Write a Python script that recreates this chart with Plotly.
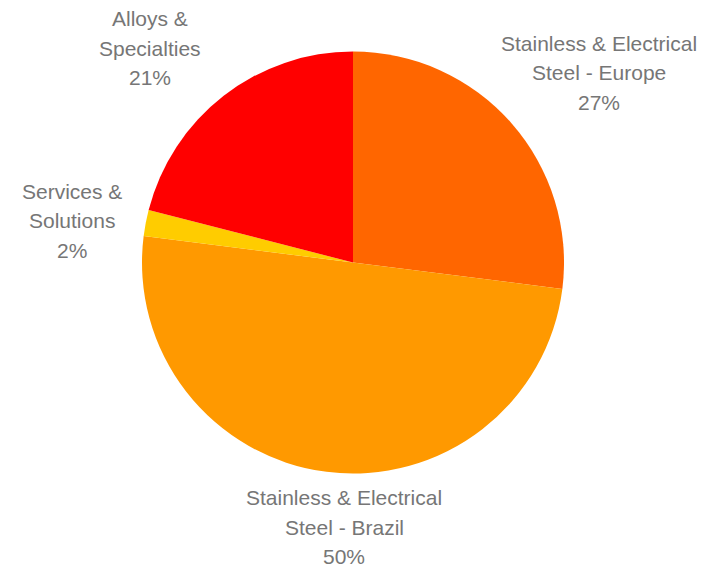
import plotly.graph_objects as go

# Segment shares, clockwise from 12 o'clock
segments = ["Stainless & Electrical<br>Steel - Europe",
            "Stainless & Electrical<br>Steel - Brazil",
            "Services &<br>Solutions",
            "Alloys &<br>Specialties"]
shares = [27, 50, 2, 21]
colors = ["#FF6600", "#FF9900", "#FFCC00", "#FF0000"]

W, H = 708, 567
cx, cy, r = 353, 262.5, 211

# Label block centres (pixels) and line spacing
label_pos = [(599, 73), (344, 527), (72, 221), (150, 48)]
line_gap = 29.5

fig = go.Figure(go.Pie(
    labels=segments,
    values=shares,
    sort=False,
    direction="clockwise",
    rotation=0,
    marker=dict(colors=colors, line=dict(width=0)),
    textinfo="none",
    hoverinfo="label+percent",
    showlegend=False,
    domain=dict(x=[(cx - r) / W, (cx + r) / W],
                y=[(H - cy - r) / H, (H - cy + r) / H]),
))

total = sum(shares)
annotations = []
for seg, val, (px, py) in zip(segments, shares, label_pos):
    lines = seg.split("<br>") + [f"{round(100 * val / total)}%"]
    n = len(lines)
    for i, line in enumerate(lines):
        ly = py + (i - (n - 1) / 2) * line_gap
        annotations.append(dict(
            x=px / W, y=1 - ly / H, xref="paper", yref="paper",
            text=line, showarrow=False, xanchor="center", yanchor="middle",
            font=dict(family="Liberation Sans, Arial, sans-serif", size=21, color="#767676"),
        ))

fig.update_layout(
    width=W, height=H,
    margin=dict(l=0, r=0, t=0, b=0),
    paper_bgcolor="white",
    plot_bgcolor="white",
    annotations=annotations,
)

fig.write_html("out.html")
